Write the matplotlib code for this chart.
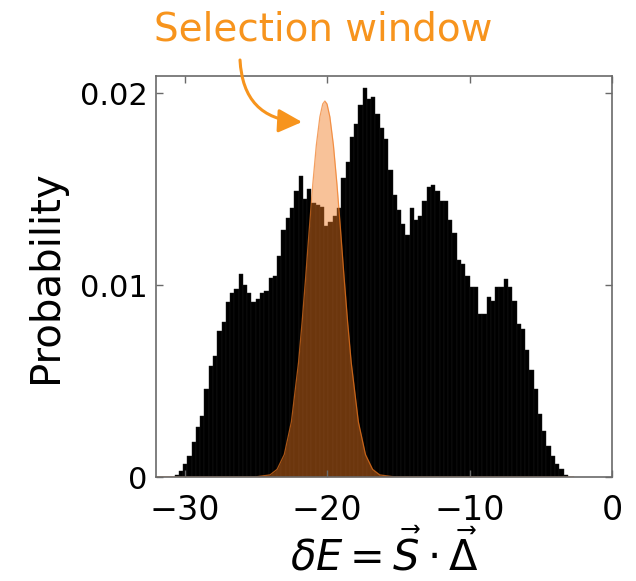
import numpy as np
import matplotlib
matplotlib.use("Agg")
import matplotlib.pyplot as plt
from matplotlib.patches import ArrowStyle

# Histogram of delta E (bin heights)
bin_start = -30.7
bin_width = 0.3
prob = [0.00008, 0.0003, 0.0007, 0.0011, 0.0018, 0.0026, 0.0032, 0.0046, 0.0058, 0.0063,
        0.0076, 0.0081, 0.0091, 0.0096, 0.0098, 0.0106, 0.0100, 0.0096, 0.0091, 0.0093,
        0.0096, 0.0097, 0.0104, 0.0105, 0.0115, 0.0129, 0.0135, 0.0140, 0.0149, 0.0157,
        0.0145, 0.0150, 0.0143, 0.0142, 0.0141, 0.0131, 0.0133, 0.0136, 0.0140, 0.0156,
        0.0164, 0.0177, 0.0184, 0.0194, 0.0203, 0.0197, 0.0198, 0.0189, 0.0182, 0.0176,
        0.0160, 0.0147, 0.0139, 0.0132, 0.0126, 0.0140, 0.0134, 0.0136, 0.0144, 0.0151,
        0.0152, 0.0149, 0.0144, 0.0144, 0.0134, 0.0127, 0.0113, 0.0111, 0.0105, 0.0099,
        0.0099, 0.0085, 0.0085, 0.0094, 0.0092, 0.0099, 0.0099, 0.0103, 0.0099, 0.0092,
        0.0080, 0.0077, 0.0066, 0.0056, 0.0046, 0.0033, 0.0024, 0.0016, 0.0011, 0.0007,
        0.0004, 0.0001]

# Selection window profile (estimated points)
window_x = [-32.0, -25.0, -24.0, -23.5, -23.0, -22.5, -22.0, -21.75, -21.5, -21.25, -21.0,
            -20.75, -20.5, -20.3, -20.15, -20.0, -19.8, -19.55, -19.3, -19.05, -18.8,
            -18.55, -18.3, -17.8, -17.3, -16.8, -16.3, -15.3, -2.7]
window_y = [0.0, 0.00001, 0.00011, 0.0004, 0.00117, 0.00288, 0.00597, 0.00806, 0.0104,
            0.01288, 0.01525, 0.0173, 0.01878, 0.01945, 0.0196, 0.01945, 0.01878, 0.0173,
            0.01525, 0.01288, 0.0104, 0.00806, 0.00597, 0.00288, 0.00117, 0.0004, 0.00011,
            0.00001, 0.0]

xticks = [-30, -20, -10, 0]
yticks = [0, 0.01, 0.02]
ytick_labels = ["0", "0.01", "0.02"]

orange = "#F7941D"
frame = "#6a6a6a"

fig = plt.figure(figsize=(6.36, 5.81), dpi=100)
ax = fig.add_axes([0.2453, 0.179, 0.717, 0.690])

centers = bin_start + bin_width * (np.arange(len(prob)) + 0.5)
ax.bar(centers, prob, width=bin_width, color="black", edgecolor="#1c1c1c", linewidth=0.3)

ax.fill_between(window_x, window_y, color="#F0781E", alpha=0.45, linewidth=0)
ax.plot(window_x, window_y, color="#F0781E", lw=0.9, alpha=0.7)

ax.set_xlim(-32, 0)
ax.set_ylim(0, 0.0209)
ax.set_xticks(xticks)
ax.set_yticks(yticks)
ax.set_yticklabels(ytick_labels)
ax.tick_params(direction="in", length=5, width=1, color=frame, top=True, right=True,
               labelsize=22, pad=6)
ax.tick_params(axis="x", labelsize=24, pad=12)
for s in ax.spines.values():
    s.set_color(frame)
    s.set_linewidth(1.2)

ax.set_ylabel("Probability", fontsize=29, labelpad=10)
ax.set_xlabel(r"$\delta E = \vec{S}\cdot\vec{\Delta}$", fontsize=30, labelpad=2)

fig.text(0.508, 0.950, "Selection window", color=orange, fontsize=28,
         ha="center", va="center")

# curved arrow pointing at the window
ax.annotate("", xy=(302, 581 - 122), xycoords="figure pixels",
            xytext=(240, 581 - 60), textcoords="figure pixels",
            arrowprops=dict(arrowstyle=ArrowStyle("-|>", head_length=0.9, head_width=0.45),
                            mutation_scale=16, color=orange, lw=2.2,
                            connectionstyle="arc3,rad=0.45",
                            shrinkA=0, shrinkB=0))

fig.savefig("out.png", dpi=100)
